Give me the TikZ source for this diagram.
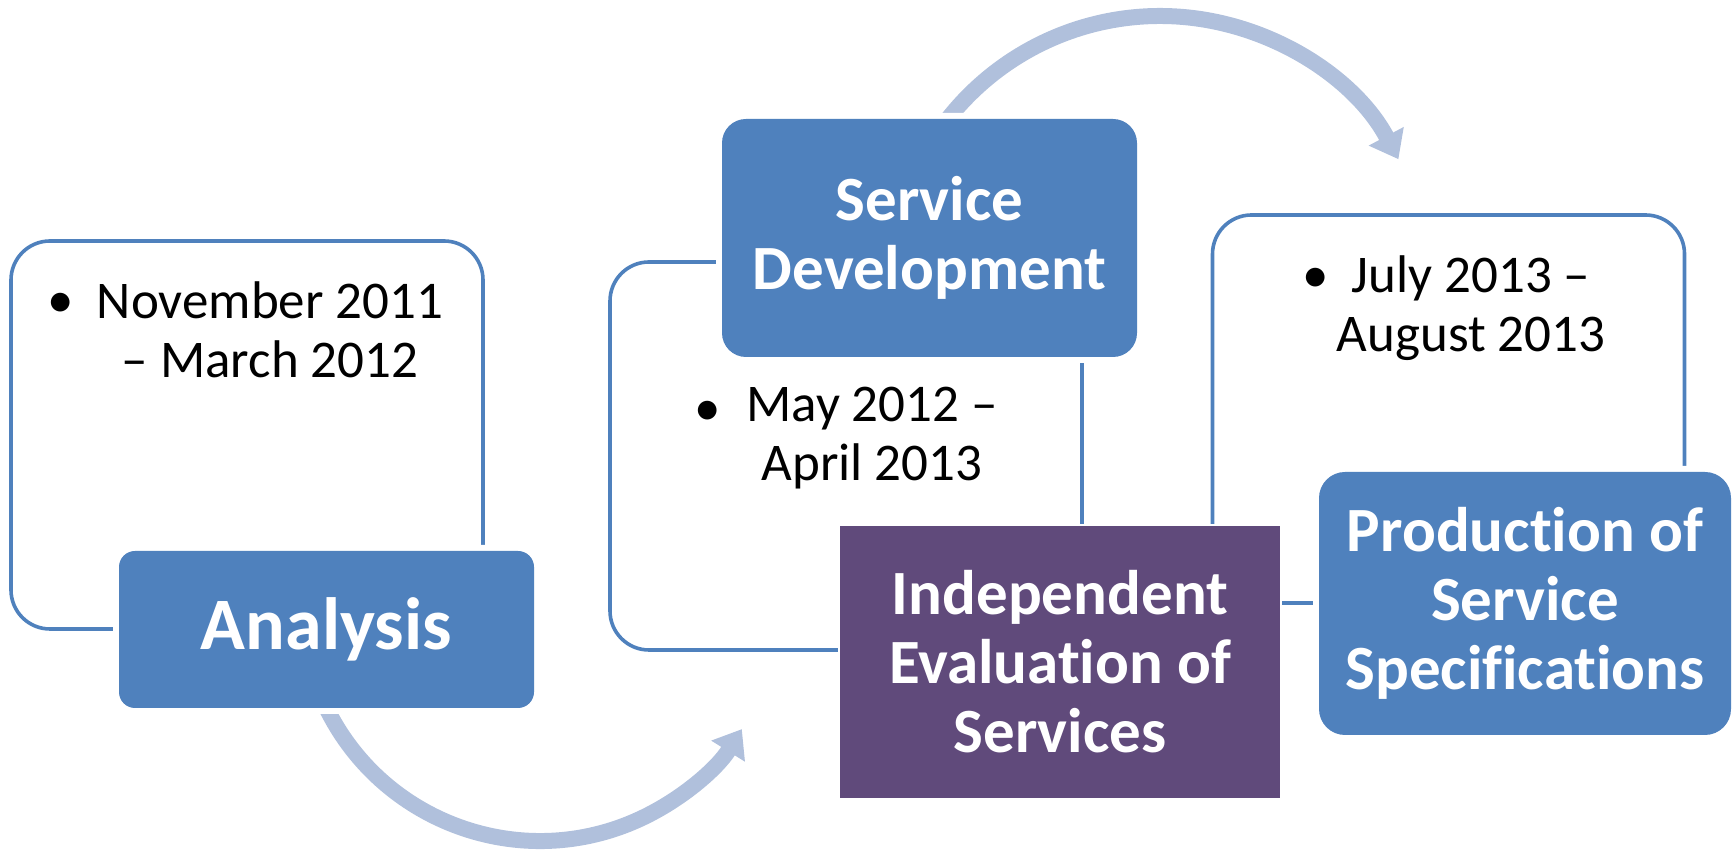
\documentclass[tikz,border=0pt]{standalone}
\usepackage{fontspec}
\setmainfont{Carlito}[Ligatures=NoCommon]
\usetikzlibrary{arrows.meta}
\definecolor{stageblue}{RGB}{79,129,189}
\definecolor{stagepurple}{RGB}{96,74,123}
\definecolor{cyclearrow}{RGB}{176,192,220}

\begin{document}
\begin{tikzpicture}[
  x=0.5pt, y=0.5pt,
  panel/.style={rectangle, rounded corners=19.5pt, draw=stageblue, line width=1.8pt, inner sep=0pt, minimum width=236pt, minimum height=194pt},
  stage/.style={rectangle, fill=stageblue, preaction={draw=white, line width=6pt}, text=white, align=center, inner sep=0pt, font=\fontsize{31.5}{34.5}\selectfont\bfseries},
  evalstage/.style={rectangle, fill=stagepurple, preaction={draw=white, line width=2pt}, text=white, align=center, inner sep=0pt, font=\fontsize{31.5}{34.5}\selectfont\bfseries},
  datetext/.style={anchor=base, align=center, inner sep=0pt, font=\fontsize{26.5}{29.5}\selectfont},
  bulletmark/.style={anchor=base, inner sep=0pt, font=\fontsize{26.5}{29.5}\selectfont},
  cycle/.style={draw=cyclearrow, line width=8pt, -{Triangle[width=19pt, length=13pt]}}
]
\useasboundingbox (0,0) rectangle (1734,850);

% Outlined panels behind the stages
\node[panel] (p1) at (247,415) {};
\node[panel] (p2) at (846,394) {};
\node[panel] (p3) at (1448.5,441) {};

% Dates (base = last line)
\node[bulletmark] (b1) at (61,532) {\textbullet};
\node[datetext] (d1) at (270,472) {November 2011\\– March 2012};
\node[bulletmark] (b2) at (708,424) {\textbullet};
\node[datetext] (d2) at (872,369) {May 2012 –\\April 2013};
\node[bulletmark] (b3) at (1316,557) {\textbullet};
\node[datetext] (d3) at (1471,498) {July 2013 –\\August 2013};

% Circular arrows
\coordinate (c1) at (540,247);
\coordinate (c2) at (1160,564);
\draw[cycle] ([shift={(205:238)}]c1) arc[start angle=205, end angle=328, radius=238];
\draw[cycle] ([shift={(143:270)}]c2) arc[start angle=143, end angle=28, radius=270];

% Stages
\node[stage, rounded corners=8pt, minimum width=207.5pt, minimum height=78.5pt, font=\fontsize{37}{40}\selectfont\bfseries] (s1) at (326.5,220.5) {Analysis};
\node[stage, rounded corners=12pt, minimum width=207.5pt, minimum height=119pt] (s2) at (929.5,612) {Service\\Development};
\node[evalstage, minimum width=220pt, minimum height=136pt] (s3) at (1060,188) {Independent\\Evaluation of\\Services};
\node[stage, rounded corners=13pt, minimum width=206pt, minimum height=131.5pt] (s4) at (1525,246.5) {Production of\\Service\\Specifications};

\end{tikzpicture}
\end{document}
